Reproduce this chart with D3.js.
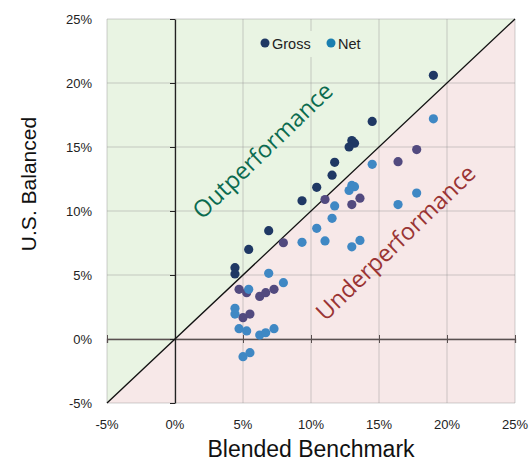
<!DOCTYPE html>
<html><head><meta charset="utf-8">
<script src="https://cdn.jsdelivr.net/npm/d3@7"></script>
<style>body{margin:0;background:#fff;} text{font-family:"Liberation Sans",Arial,sans-serif;}</style>
</head><body>
<svg id="c" width="531" height="463"></svg>
<script>
const benchmark = [19.0, 14.5, 13.0, 13.2, 12.8, 11.74, 11.55, 10.42, 9.34, 6.89, 5.42, 4.41, 4.41, 17.77, 16.4, 11.03, 13.6, 13.0, 7.97, 4.71, 5.27, 6.23, 6.67, 7.28, 5.0, 5.51];
const gross = [20.6, 17.0, 15.5, 15.3, 15.0, 13.8, 12.8, 11.85, 10.8, 8.46, 7.0, 5.57, 5.08, 14.8, 13.85, 10.9, 11.0, 10.5, 7.52, 3.88, 3.62, 3.33, 3.62, 3.88, 1.67, 1.95];
const net = [17.2, 13.65, 12.0, 11.9, 11.6, 10.4, 9.43, 8.65, 7.55, 5.13, 3.88, 2.4, 1.95, 11.4, 10.5, 7.66, 7.7, 7.2, 4.4, 0.81, 0.63, 0.31, 0.49, 0.81, -1.38, -1.07];
const ticks = [-5, 0, 5, 10, 15, 20, 25];
const seriesNames = ["Gross", "Net"];

const svg = d3.select("#c");
const x = d3.scaleLinear().domain([-5, 25]).range([107, 515]);
const y = d3.scaleLinear().domain([-5, 25]).range([403, 19]);
const [x0, x1] = x.range(), [y0, y1] = y.range();

// regions
svg.append("polygon").attr("points", [[x0,y1],[x0,y0],[x1,y1]].join(" ")).attr("fill", "#e9f4e3");
svg.append("polygon").attr("points", [[x0,y0],[x1,y0],[x1,y1]].join(" ")).attr("fill", "#f7e8e8");

// grid
const g = svg.append("g");
ticks.forEach(t => {
  g.append("line").attr("x1", x(t)).attr("x2", x(t)).attr("y1", y1).attr("y2", y0)
    .attr("stroke", "rgba(150,150,150,0.3)").attr("stroke-width", 1.5);
  g.append("line").attr("y1", y(t)).attr("y2", y(t)).attr("x1", x0).attr("x2", x1)
    .attr("stroke", "rgba(150,150,150,0.3)").attr("stroke-width", 1.5);
});

// axes at zero
const xa = svg.append("g").attr("transform", `translate(0,${y(0)})`)
  .call(d3.axisBottom(x).tickValues(ticks).tickSize(4).tickFormat(""));
xa.select(".domain").attr("stroke", "#5a5050").attr("stroke-width", 1.3);
xa.selectAll(".tick line").attr("stroke", "#5a5050").attr("y1", -4).attr("y2", 4);
const ya = svg.append("g").attr("transform", `translate(${x(0)},0)`)
  .call(d3.axisLeft(y).tickValues(ticks).tickSize(5).tickFormat("").tickSizeOuter(0));
ya.select(".domain").attr("stroke", "#222").attr("stroke-width", 1.3);
ya.selectAll(".tick line").attr("stroke", "#222");

// tick labels
ticks.forEach(t => {
  svg.append("text").attr("x", x(t)).attr("y", 429).attr("text-anchor", "middle")
    .attr("font-size", 13).attr("fill", "#222").text(t + "%");
  svg.append("text").attr("x", 92).attr("y", y(t) + 5).attr("text-anchor", "end")
    .attr("font-size", 13).attr("fill", "#222").text(t + "%");
});

// diagonal
svg.append("line").attr("x1", x(-5)).attr("y1", y(-5)).attr("x2", x(25)).attr("y2", y(25))
  .attr("stroke", "#111").attr("stroke-width", 1.3);

// region labels
svg.append("text").attr("transform", `translate(264,152) rotate(-44)`).attr("text-anchor", "middle")
  .attr("dominant-baseline", "middle").attr("font-size", 23.5).style("font-family", "'Open Sans', sans-serif")
  .attr("fill", "#0b6b4f").text("Outperformance");
svg.append("text").attr("transform", `translate(397,244) rotate(-44)`).attr("text-anchor", "middle")
  .attr("dominant-baseline", "middle").attr("font-size", 23.5).style("font-family", "'Open Sans', sans-serif")
  .attr("fill", "#9a3434").text("Underperformance");

// points
const data = benchmark.map((b, i) => ({b, g: gross[i], n: net[i]}));
const grossColor = d => d.g >= d.b ? "#1f3864" : "#524a7f";
svg.append("g").selectAll("circle").data(data).join("circle")
  .attr("cx", d => x(d.b)).attr("cy", d => y(d.g)).attr("r", 4.6).attr("fill", grossColor);
svg.append("g").selectAll("circle").data(data).join("circle")
  .attr("cx", d => x(d.b)).attr("cy", d => y(d.n)).attr("r", 4.6).attr("fill", "#3f88c4");

// legend
svg.append("rect").attr("x", 257).attr("y", 31).attr("width", 112).attr("height", 26).attr("fill", "#e9f4e3");
const legColors = ["#1f3864", "#1a7fb0"];
const legX = [265, 331];
seriesNames.forEach((s, i) => {
  svg.append("circle").attr("cx", legX[i]).attr("cy", 43).attr("r", 4.5).attr("fill", legColors[i]);
  svg.append("text").attr("x", legX[i] + 7).attr("y", 48.5).attr("font-size", 14.5).attr("fill", "#222").text(s);
});

// axis titles
svg.append("text").attr("x", 311).attr("y", 457).attr("text-anchor", "middle").attr("font-size", 23).attr("fill", "#111").text("Blended Benchmark");
svg.append("text").attr("transform", "translate(36,184) rotate(-90)").attr("text-anchor", "middle").attr("font-size", 21).attr("fill", "#111").text("U.S. Balanced");
</script>
</body></html>
